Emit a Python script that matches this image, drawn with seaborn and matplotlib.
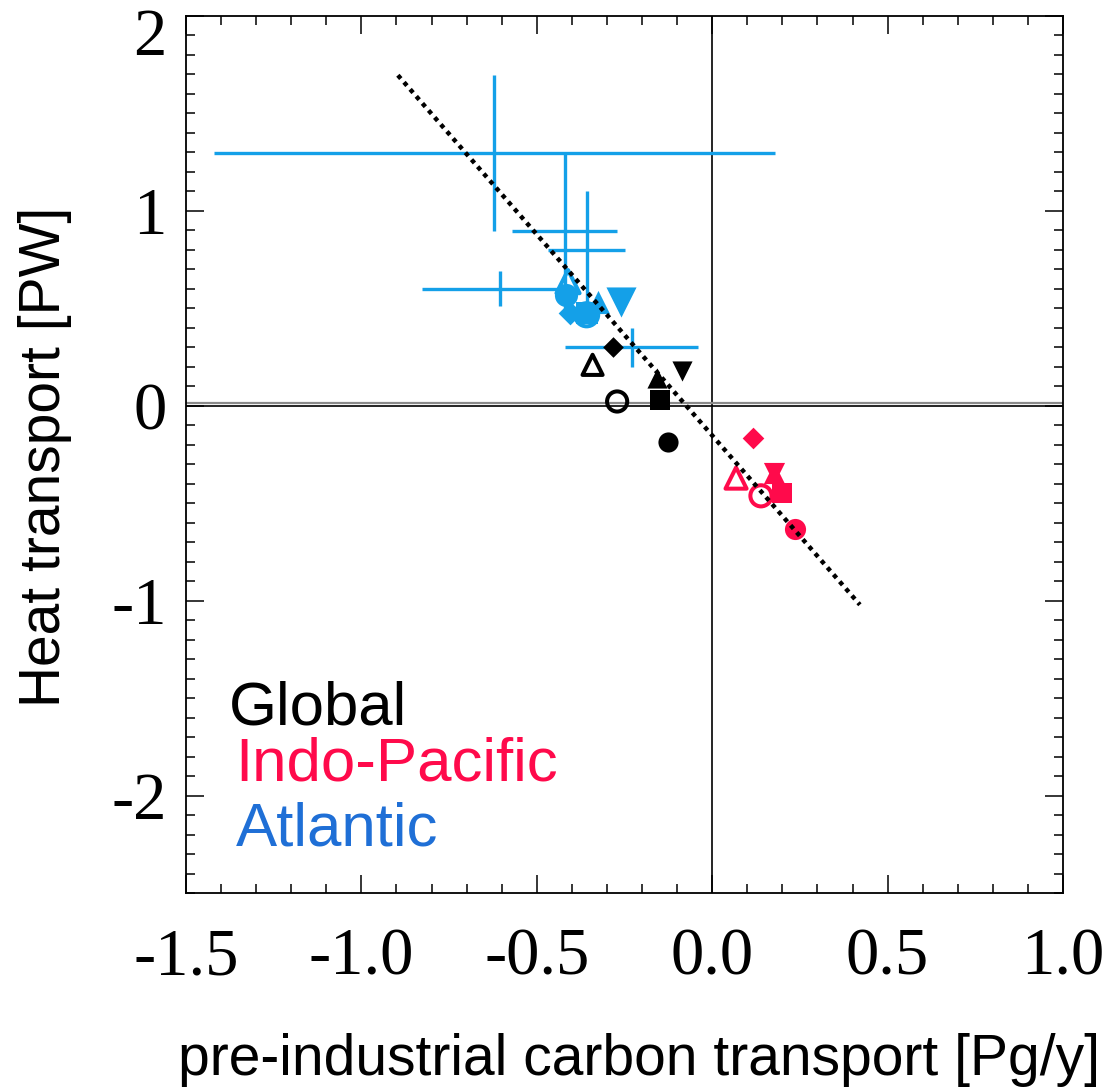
import numpy as np
import pandas as pd
import matplotlib
matplotlib.use("Agg")
import matplotlib.pyplot as plt
import seaborn as sns
from matplotlib.ticker import MultipleLocator, FixedLocator
from matplotlib.transforms import ScaledTranslation

# ---- data -----------------------------------------------------------------
# one entry per model: marker shape and whether it is filled
model_markers = ["o", "o", "s", "D", "^", "^", "v"]
model_filled = [True, False, True, True, True, False, True]

# pre-industrial carbon transport [Pg/y] and heat transport [PW] per basin
global_x = [-0.125, -0.271, -0.149, -0.284, -0.157, -0.341, -0.085]
global_y = [-0.188, 0.022, 0.031, 0.304, 0.142, 0.210, 0.177]

indo_x = [0.236, 0.139, 0.198, 0.115, 0.175, 0.068, 0.175]
indo_y = [-0.632, -0.462, -0.445, -0.166, -0.343, -0.371, -0.343]

atl_x = [-0.416, -0.358, -0.356, -0.406, -0.325, -0.411, -0.259]
atl_y = [0.569, 0.467, 0.478, 0.475, 0.535, 0.637, 0.535]

# observational estimates for the Atlantic with uncertainties
obs_x = [-0.621, -0.420, -0.358, -0.606, -0.230]
obs_y = [1.299, 0.899, 0.800, 0.600, 0.301]
obs_xerr = [0.80, 0.150, 0.109, 0.22, 0.189]
obs_yerr = [0.40, 0.40, 0.30, 0.09, 0.10]

# end points of the regression line
fit_x = [-0.896, 0.421]
fit_y = [1.696, -1.021]

basin_names = ["Global", "Indo-Pacific", "Atlantic"]

# ---- styling --------------------------------------------------------------
C_GLOBAL = "#000000"
C_INDO = "#FF0A4B"
C_ATL = "#14A0E8"
C_ATL_TEXT = "#1F6FD6"

sns.set_theme(style="white")
plt.rcParams["font.family"] = ["Liberation Serif", "DejaVu Serif"]
plt.rcParams["axes.unicode_minus"] = False
for key in ("text.color", "axes.labelcolor", "xtick.color", "ytick.color",
            "xtick.labelcolor", "ytick.labelcolor", "axes.edgecolor"):
    plt.rcParams[key] = "black"

fig = plt.figure(figsize=(11.12, 10.91), dpi=100)
ax = fig.add_axes([186 / 1112, 1 - 893 / 1091, 877 / 1112, 877 / 1091])

ax.set_xlim(-1.5, 1.0)
ax.set_ylim(-2.5, 2.0)

# zero lines
ax.axvline(0, color="black", lw=1.2, zorder=1)
ax.axhline(0.012, color="#8a8a8a", lw=1.6, zorder=1)
ax.axhline(0, color="black", lw=1.2, zorder=1)

# observational crosses
ax.errorbar(obs_x, obs_y, xerr=obs_xerr, yerr=obs_yerr, fmt="none",
            ecolor=C_ATL, elinewidth=2.4, capsize=0, zorder=2)

# model markers
frames = []
for name, xs, ys in zip(basin_names, [global_x, indo_x, atl_x], [global_y, indo_y, atl_y]):
    frames.append(pd.DataFrame({"basin": name, "x": xs, "y": ys,
                                "marker": model_markers, "filled": model_filled}))
df = pd.concat(frames, ignore_index=True)

colors = {"Global": C_GLOBAL, "Indo-Pacific": C_INDO, "Atlantic": C_ATL}
scale = {"Global": 1.0, "Indo-Pacific": 1.05, "Atlantic": 1.15}
base_ms = {"o": 14.5, "s": 14.0, "D": 10.5, "^": 14.5, "v": 14.5}

for _, row in df.iterrows():
    col = colors[row["basin"]]
    ms = base_ms[row["marker"]] * scale[row["basin"]]
    if row["basin"] == "Atlantic" and row["marker"] == "v":
        ms *= 1.3
    if row["filled"]:
        sns.scatterplot(x=[row["x"]], y=[row["y"]], marker=row["marker"], s=ms ** 2,
                        color=col, edgecolor=col, linewidth=0, ax=ax, zorder=3,
                        legend=False)
    else:
        sns.scatterplot(x=[row["x"]], y=[row["y"]], marker=row["marker"], s=ms ** 2,
                        color=col, facecolor="none", edgecolor=col, linewidth=2.9,
                        ax=ax, zorder=3, legend=False)

# regression line
sns.lineplot(x=fit_x, y=fit_y, color="black", lw=3.2, linestyle=(0, (1, 1.1)),
             ax=ax, zorder=4)

# basin labels
lab_font = dict(family=["Liberation Sans", "DejaVu Sans"], fontsize=44.5)
ax.text(0.049, 0.1916, "Global", color=C_GLOBAL, transform=ax.transAxes,
        ha="left", va="baseline", **lab_font)
ax.text(0.056, 0.1288, "Indo-Pacific", color=C_INDO, transform=ax.transAxes,
        ha="left", va="baseline", **lab_font)
ax.text(0.057, 0.0547, "Atlantic", color=C_ATL_TEXT, transform=ax.transAxes,
        ha="left", va="baseline", **lab_font)

# axes, ticks
ax.xaxis.set_major_locator(FixedLocator([-1.5, -1.0, -0.5, 0.0, 0.5, 1.0]))
ax.xaxis.set_minor_locator(MultipleLocator(0.1))
ax.yaxis.set_major_locator(FixedLocator([-2, -1, 0, 1, 2]))
ax.yaxis.set_minor_locator(MultipleLocator(0.1))
ax.set_xticklabels(["-1.5", "-1.0", "-0.5", "0.0", "0.5", "1.0"])
ax.set_yticklabels(["-2", "-1", "0", "1", "2"])

ax.tick_params(which="both", direction="in", top=True, right=True,
               bottom=True, left=True, color="black", width=1.1)
ax.tick_params(which="major", length=13)
ax.tick_params(which="minor", length=6.5)
ax.tick_params(axis="x", which="major", labelsize=48, pad=25, labelcolor="black")
ax.tick_params(axis="y", which="major", labelsize=48, pad=14, labelcolor="black")

for sp in ax.spines.values():
    sp.set_color("black")
    sp.set_linewidth(1.3)
ax.grid(False)

# keep the top tick label inside the figure
top_tick = ax.yaxis.get_major_ticks()[-1]
top_tick.label1.set_transform(top_tick.label1.get_transform()
                              + ScaledTranslation(0, -11 / 72, fig.dpi_scale_trans))

axis_font = dict(family=["Liberation Sans", "DejaVu Sans"], fontsize=41, color="black")
ax.set_xlabel("pre-industrial carbon transport [Pg/y]", **axis_font)
ax.set_ylabel("Heat transport [PW]", **axis_font)
ax.xaxis.set_label_coords(0.5165, -0.160)
ax.yaxis.set_label_coords(-0.130, 0.497)

fig.savefig("out.png", dpi=100, facecolor="white")
